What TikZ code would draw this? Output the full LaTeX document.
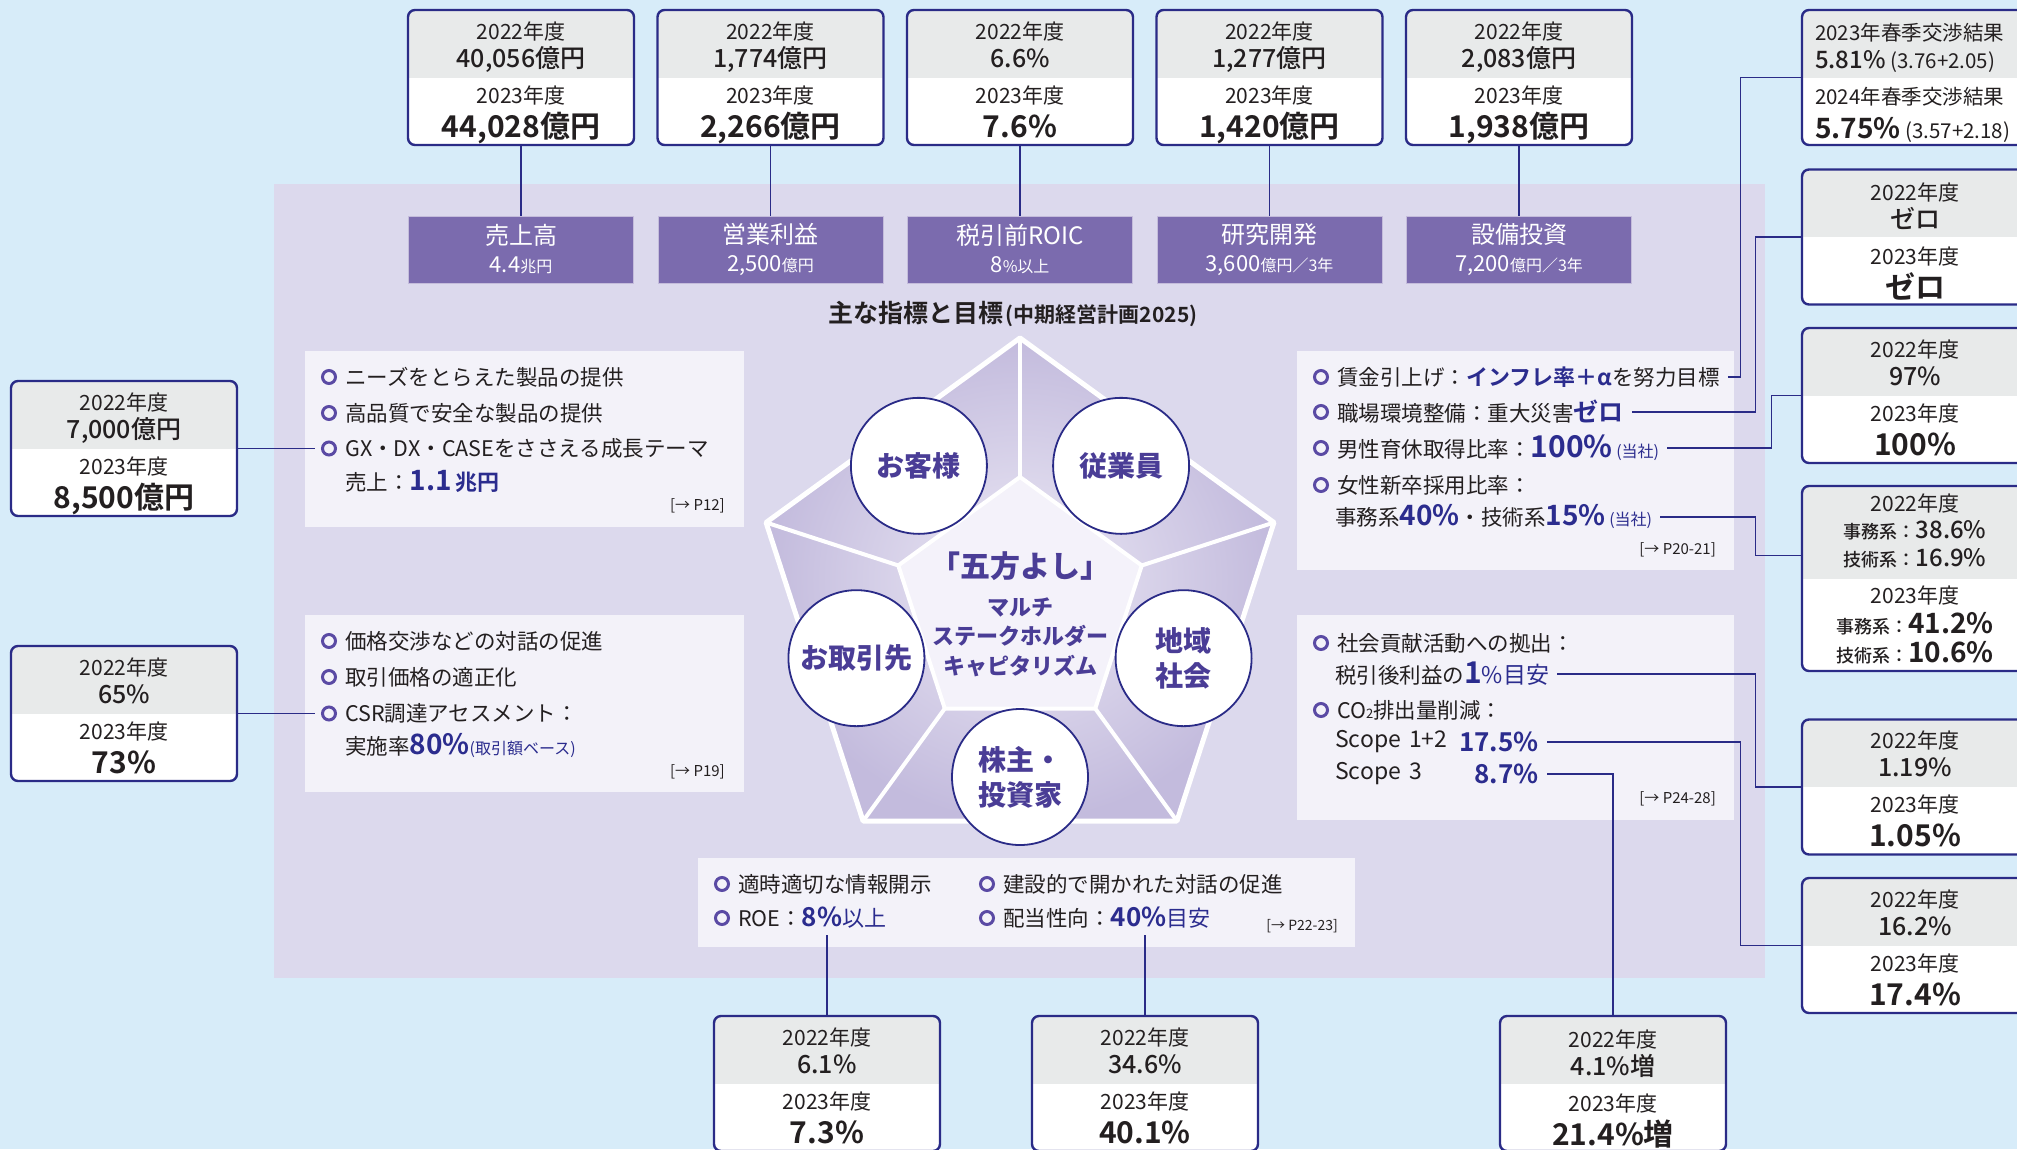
\documentclass[tikz,border=0pt]{standalone}
\usepackage{fontspec}
\setmainfont{Noto Sans CJK JP}[BoldFont={Noto Sans CJK JP Bold}]
\newfontfamily\medfont{Noto Sans CJK JP Medium}
\newfontfamily\heavyfont{Noto Sans CJK JP Black}
\usetikzlibrary{calc}
\definecolor{bgblue}{HTML}{D7ECF9}
\definecolor{panel}{HTML}{DCD9ED}
\definecolor{sheet}{HTML}{F3F2F9}
\definecolor{kpipurple}{HTML}{7B6BAE}
\definecolor{navy}{HTML}{2A2B87}
\definecolor{boxgray}{HTML}{E8EAEA}
\definecolor{ink}{HTML}{231F20}
\definecolor{emph}{HTML}{2B2C8E}
\definecolor{circink}{HTML}{4A3D96}
\definecolor{dotpurple}{HTML}{5A4AA4}
\definecolor{penlight}{HTML}{ECE9F5}
\definecolor{pendark}{HTML}{C3BBDD}
\definecolor{pencore}{HTML}{F4F2FA}
\newcommand\fsz[1]{\fontsize{#1}{#1}\selectfont}
\newcommand\hi[2]{{\fsz{#1}\bfseries\color{emph}#2}}
\newcommand\lift{\rule{0pt}{29pt}}
\newcommand\sink{\rule[-8pt]{0pt}{0pt}}
\begin{document}
\begin{tikzpicture}[x=1pt,y=-1pt,
  kpi/.style={draw=navy,line width=2.4pt,rounded corners=7pt,fill=white,minimum width=226pt,minimum height=135pt,inner sep=0,align=center,text=ink,font=\fontsize{21}{28}\selectfont,
    path picture={\fill[boxgray,sharp corners] (path picture bounding box.north west) rectangle (path picture bounding box.east);}},
  goal/.style={fill=kpipurple,draw=kpipurple!45!white,line width=.8pt,minimum width=225pt,minimum height=67pt,inner sep=0,align=center,text=white,font=\fontsize{24}{28}\selectfont},
  item/.style={anchor=west,inner sep=0,text=ink,font=\fontsize{21.5}{26}\selectfont},
  bullet/.style={circle,draw=dotpurple,line width=3pt,fill=sheet,minimum size=13pt,inner sep=0},
  ref/.style={anchor=east,inner sep=0,text=ink,font=\fontsize{15}{15}\selectfont},
  party/.style={circle,draw=navy,line width=1.8pt,fill=white,minimum size=136pt,inner sep=0,align=center,text=circink,font=\fontsize{28}{35}\selectfont\heavyfont},
  link/.style={navy,line width=1.3pt}]
        \useasboundingbox (0,0) rectangle (2017,1149);
        \clip (0,0) rectangle (2017,1149);
        \fill[bgblue] (0,0) rectangle (2017,1149);
        \fill[panel] (274,184) rectangle (1765,978);
        \fill[sheet] (305,351) rectangle (744,527);
        \fill[sheet] (305,615) rectangle (744,792);
        \fill[sheet] (1297,351) rectangle (1734,570);
        \fill[sheet] (1297,615) rectangle (1734,820);
        \fill[sheet] (698,858) rectangle (1355,947);

        \node[kpi] at (521,77.5) (top1) {\lift 2022年度\\{\medfont\fsz{25}40,056億円}\\[8pt]2023年度\\[6pt]{\bfseries\fsz{30}44,028億円}};
        \node[kpi] at (770.5,77.5) (top2) {\lift 2022年度\\{\medfont\fsz{25}1,774億円}\\[8pt]2023年度\\[6pt]{\bfseries\fsz{30}2,266億円}};
        \node[kpi] at (1020,77.5) (top3) {\lift 2022年度\\{\medfont\fsz{25}6.6\%}\\[8pt]2023年度\\[6pt]{\bfseries\fsz{30}7.6\%}\sink};
        \node[kpi] at (1269.5,77.5) (top4) {\lift 2022年度\\{\medfont\fsz{25}1,277億円}\\[8pt]2023年度\\[6pt]{\bfseries\fsz{30}1,420億円}};
        \node[kpi] at (1519,77.5) (top5) {\lift 2022年度\\{\medfont\fsz{25}2,083億円}\\[8pt]2023年度\\[6pt]{\bfseries\fsz{30}1,938億円}};

        \node[goal] at (521,249.5) (goal1) {売上高\\{\fsz{22}4.4}{\fsz{16}兆円}};
        \node[goal] at (770.5,249.5) (goal2) {営業利益\\{\fsz{22}2,500}{\fsz{16}億円}};
        \node[goal] at (1020,249.5) (goal3) {税引前ROIC\\{\fsz{22}8}{\fsz{16}\%以上}};
        \node[goal] at (1269.5,249.5) (goal4) {研究開発\\{\fsz{22}3,600}{\fsz{16}億円／3年}};
        \node[goal] at (1519,249.5) (goal5) {設備投資\\{\fsz{22}7,200}{\fsz{16}億円／3年}};

        \node[inner sep=0,text=ink,font=\bfseries] at (1013,314) (title) {{\fsz{25}主な指標と目標} {\fsz{21}(中期経営計画2025)}};

        \begin{scope}[shift={(1020,605)}]
        \shade[inner color=penlight,outer color=pendark] (-90:267) -- (-162:267) -- (-234:267) -- (-306:267) -- (-18:267) -- cycle;
        \foreach \a in {90,162,234,306,18}
            \draw[white,line width=4pt] (-\a:128) -- (-\a:267);
        \draw[white,line width=5pt,line join=round] (-90:267) -- (-162:267) -- (-234:267) -- (-306:267) -- (-18:267) -- cycle;
        \filldraw[fill=pencore,draw=white,line width=4pt,line join=round] (-90:128) -- (-162:128) -- (-234:128) -- (-306:128) -- (-18:128) -- cycle;
        \node[inner sep=0,text=circink,font=\heavyfont\fsz{30}] at (0,-39) (motto) {「五方よし」};
        \node[inner sep=0,align=center,text=circink,font=\heavyfont\fontsize{22}{29.5}\selectfont] at (0,32) (caption) {マルチ\\ステークホルダー\\キャピタリズム};
        \node[party] at (-126:172) (cust) {お客様};
        \node[party] at (-54:172) (empl) {従業員};
        \node[party] at (-198:172) (part) {お取引先};
        \node[party] at (18:172) (comm) {地域\\社会};
        \node[party] at (-270:172) (share) {株主・\\投資家};
        \end{scope}

        \node[kpi] at (124,448.5) (l1) {\lift 2022年度\\{\medfont\fsz{25}7,000億円}\\[8pt]2023年度\\[6pt]{\bfseries\fsz{30}8,500億円}};
        \node[kpi] at (124,713.5) (l2) {\lift 2022年度\\{\medfont\fsz{25}65\%}\\[8pt]2023年度\\[6pt]{\bfseries\fsz{30}73\%}\sink};

        \node[kpi] at (1915,77.5) (r1) {};
        \node[anchor=west,inner sep=0,align=left,text=ink,font=\fontsize{20.5}{28}\selectfont] at ([xshift=14pt]r1.west) (r1txt) {\lift 2023年春季交渉結果\\{\medfont\fsz{24}5.81\%} (3.76+2.05)\\[8pt]2024年春季交渉結果\\[6pt]{\bfseries\fsz{28}5.75\%} (3.57+2.18)};
        \node[kpi] at (1915,237) (r2) {\lift 2022年度\\{\medfont\fsz{25}ゼロ}\\[8pt]2023年度\\[6pt]{\bfseries\fsz{30}ゼロ}\rule[-5pt]{0pt}{0pt}};
        \node[kpi] at (1915,395.5) (r3) {\lift 2022年度\\{\medfont\fsz{25}97\%}\\[8pt]2023年度\\[6pt]{\bfseries\fsz{30}100\%}\sink};
        \node[kpi,minimum height=185pt,font=\fontsize{21}{27}\selectfont] at (1915,578.5) (r4) {2022年度\\{\medfont\fsz{18}事務系：}{\medfont\fsz{24}38.6\%}\\[1pt]{\medfont\fsz{18}技術系：}{\medfont\fsz{24}16.9\%}\\[10pt]2023年度\\[3pt]{\medfont\fsz{18}事務系：}{\bfseries\fsz{28}41.2\%}\\[2pt]{\medfont\fsz{18}技術系：}{\bfseries\fsz{28}10.6\%}};
        \node[kpi] at (1915,787) (r5) {\lift 2022年度\\{\medfont\fsz{25}1.19\%}\\[8pt]2023年度\\[6pt]{\bfseries\fsz{30}1.05\%}\sink};
        \node[kpi] at (1915,945.5) (r6) {\lift 2022年度\\{\medfont\fsz{25}16.2\%}\\[8pt]2023年度\\[6pt]{\bfseries\fsz{30}17.4\%}\sink};

        \node[kpi] at (827,1083.5) (b1) {\lift 2022年度\\{\medfont\fsz{25}6.1\%}\\[8pt]2023年度\\[6pt]{\bfseries\fsz{30}7.3\%}\sink};
        \node[kpi] at (1145,1083.5) (b2) {\lift 2022年度\\{\medfont\fsz{25}34.6\%}\\[8pt]2023年度\\[6pt]{\bfseries\fsz{30}40.1\%}\sink};
        \node[kpi] at (1613,1083.5) (b3) {\lift 2022年度\\{\medfont\fsz{25}4.1\%増}\\[8pt]2023年度\\[6pt]{\bfseries\fsz{30}21.4\%増}};

        \node[bullet] at (329,377) (d1) {};
        \node[item] at (345,377) (needs) {ニーズをとらえた製品の提供};
        \node[bullet] at (329,413) (d2) {};
        \node[item] at (345,413) (quality) {高品質で安全な製品の提供};
        \node[bullet] at (329,448.5) (d3) {};
        \node[item] at (345,448.5) (gx) {GX・DX・CASEをささえる成長テーマ};
        \node[item] at (345,481) (sales) {売上：\hi{28}{1.1}\,\hi{22}{兆円}};
        \node[ref] at (725,506) (ref1) {[→ P12]};

        \node[bullet] at (329,641) (d4) {};
        \node[item] at (345,641) (price) {価格交渉などの対話の促進};
        \node[bullet] at (329,677) (d5) {};
        \node[item] at (345,677) (fair) {取引価格の適正化};
        \node[bullet] at (329,713.5) (d6) {};
        \node[item] at (345,713.5) (csr) {CSR調達アセスメント：};
        \node[item] at (345,745) (rate) {実施率\hi{28}{80\%}{\color{emph}\fsz{16}(取引額ベース)}};
        \node[ref] at (725,772) (ref2) {[→ P19]};

        \node[bullet] at (1321,377) (d7) {};
        \node[item] at (1337,377) (wage) {賃金引上げ：\hi{22}{インフレ率＋α}を努力目標};
        \node[bullet] at (1321,412) (d8) {};
        \node[item] at (1337,412) (safety) {職場環境整備：重大災害\hi{25}{ゼロ}};
        \node[bullet] at (1321,448) (d9) {};
        \node[item] at (1337,448) (leave) {男性育休取得比率：\hi{30}{100\%}\,{\color{emph}\fsz{16}(当社)}};
        \node[bullet] at (1321,485) (d10) {};
        \node[item] at (1337,485) (female) {女性新卒採用比率：};
        \node[item] at (1335,517) (femrate) {事務系\hi{28}{40\%}・技術系\hi{28}{15\%}\,{\color{emph}\fsz{16}(当社)}};
        \node[ref] at (1716,550) (ref3) {[→ P20-21]};

        \node[bullet] at (1321,643) (d11) {};
        \node[item] at (1337,643) (donate) {社会貢献活動への拠出：};
        \node[item] at (1335,674) (donrate) {税引後利益の\hi{30}{1}{\color{emph}\fsz{23}\%目安}};
        \node[bullet] at (1321,710) (d12) {};
        \node[item] at (1337,710) (co2) {CO{\fsz{13}2}排出量削減：};
        \node[item,font=\fsz{23}] at (1335,742) (s12) {Scope\hspace{8pt}1+2};
        \node[item,anchor=east] at (1539,742) (s12v) {\hi{26}{17.5\%}};
        \node[item,font=\fsz{23}] at (1335,774) (s3) {Scope\hspace{8pt}3};
        \node[item,anchor=east] at (1539,774) (s3v) {\hi{26}{8.7\%}};
        \node[ref] at (1716,799) (ref4) {[→ P24-28]};

        \node[bullet] at (722,884) (d13) {};
        \node[item] at (738,884) (disclose) {適時適切な情報開示};
        \node[bullet] at (722,918) (d14) {};
        \node[item] at (738,918) (roe) {ROE：\hi{26}{8\%}{\color{emph}\fsz{22}以上}};
        \node[bullet] at (987,884) (d15) {};
        \node[item] at (1003,884) (dialog) {建設的で開かれた対話の促進};
        \node[bullet] at (987,918) (d16) {};
        \node[item] at (1003,918) (payout) {配当性向：\hi{26}{40\%}{\color{emph}\fsz{22}目安}};
        \node[ref,font=\fsz{14}] at (1338,926) (ref5) {[→ P22-23]};

        \foreach \i in {1,...,5}
            \draw[link] (top\i.south) -- (goal\i.north);
        \draw[link,shorten >=6pt] (l1.east) -- (l1.east -| d3.west);
        \draw[link,shorten >=6pt] (l2.east) -- (l2.east -| d6.west);
        \draw[link,shorten <=8pt] (wage.east) -| ([xshift=-60pt]r1.west) -- (r1.west);
        \draw[link,shorten <=8pt] (safety.east) -| ([xshift=-45pt]r2.west) -- (r2.west);
        \draw[link,shorten <=8pt] (leave.east) -| ([xshift=-29pt]r3.west) -- (r3.west);
        \draw[link,shorten <=8pt] (femrate.east) -| ([xshift=-45pt,yshift=23pt]r4.west) -- ([yshift=23pt]r4.west);
        \draw[link,shorten <=8pt] (donrate.east) -| ([xshift=-45pt]r5.west) -- (r5.west);
        \draw[link,shorten <=8pt] (s12v.east) -| ([xshift=-60pt]r6.west) -- (r6.west);
        \draw[link,shorten <=8pt] (s3v.east) -| (b3.north);
        \draw[link,shorten >=6pt] (b1.north) -- (b1.north |- roe.south);
        \draw[link,shorten >=6pt] (b2.north) -- (b2.north |- payout.south);
    \end{tikzpicture}
\end{document}
